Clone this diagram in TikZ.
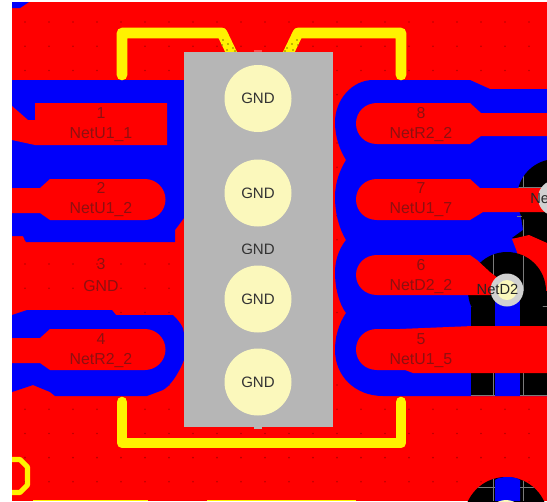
\documentclass[tikz,border=0pt]{standalone}
\usepackage{fontspec}
\setmainfont{Liberation Sans}
\definecolor{pcbred}{HTML}{FF0000}
\definecolor{pcbblue}{HTML}{0000FA}
\definecolor{pcbyellow}{HTML}{FFF200}
\definecolor{pcbgrey}{HTML}{B6B6B6}
\definecolor{pcbcream}{HTML}{FBF8BC}
\definecolor{pcbtext}{HTML}{8E1010}
\definecolor{pcbgrid}{HTML}{7A7A7A}
\tikzset{
  redfill/.style={fill=pcbred},
  bluefill/.style={fill=pcbblue},
  trace/.style={draw=pcbyellow,line width=8pt,line join=round,line cap=round},
  padlabel/.style={text=pcbtext,font=\fontsize{11.9pt}{12pt}\selectfont,inner sep=0pt},
  gndlabel/.style={text=black!80,font=\fontsize{11.3pt}{12pt}\selectfont,inner sep=0pt},
  viadisc/.style={fill=pcbcream},
  gridline/.style={draw=pcbgrid,line width=0.7pt},
  solderdot/.style={fill=black!50!pcbyellow},
}
\begin{document}
\begin{tikzpicture}[x=0.75pt,y=-0.75pt]
\useasboundingbox (0,0) rectangle (547,501);
\clip (0,0) rectangle (547,501);
\fill[white] (0,0) rectangle (547,501);
\fill[redfill] (12,2) rectangle (547,501);
% grid dots on the copper
\foreach \i in {0,...,21}{\foreach \j in {0,...,19}{
  \fill[red!72!black] ({25+24*\i},{22+24.2*\j}) circle (0.9);
}}
% blue top-left
\fill[bluefill] (12,2) -- (29,2) -- (20,8) -- (12,8) -- cycle;
% blue left
\fill[bluefill] (12,80) -- (184,80) -- (184,218) -- (175,230) -- (175,242) -- (26,242) -- (23,236) -- (12,236) -- cycle;
\fill[bluefill] (12,315) -- (27,310) -- (112,310) -- (116,315) -- (173,315)
  .. controls (178,320) and (184,327) .. (184,333) -- (184,360)
  .. controls (178,375) and (170,386) .. (163,390) -- (147,396) -- (55,396) -- (50,392) -- (33,385) -- (12,392) -- cycle;
% blue right
\fill[bluefill] (373,80) -- (470,80) -- (490,89) -- (547,89) -- (547,396) -- (383,396)
  .. controls (355,396) and (335,376) .. (335,350)
  .. controls (335,338) and (338,325) .. (346,313)
  .. controls (340,305) and (335,290) .. (335,272)
  .. controls (335,262) and (338,250) .. (346,240)
  .. controls (340,230) and (335,215) .. (335,197)
  .. controls (335,182) and (340,170) .. (346,160)
  .. controls (340,150) and (335,138) .. (335,122)
  .. controls (335,100) and (352,80) .. (373,80) -- cycle;
% upper-right clearance
\fill[black] (556,198) circle (39);
\fill[black] (517,190) -- (523,230) -- (512,238) -- (547,243) -- (547,190) -- cycle;
\begin{scope}
  \clip (556,198) circle (39) (517,190) rectangle (547,240);
  \draw[gridline] (523,150) -- (523,240);
  \draw[gridline] (510,187) -- (547,187);
  \draw[gridline] (510,216) -- (547,216);
\end{scope}
% red lump above lower clearance
\fill[redfill] (512,239) -- (529,235) -- (547,243) -- (547,300) -- (517,300) -- (517,252) -- cycle;
% lower clearance
\fill[black] (507,291) circle (39);
\fill[black] (471,291) rectangle (547,396);
\begin{scope}
  \clip (507,291) circle (39) (471,291) rectangle (547,396);
  \draw[gridline] (493,240) -- (493,396);
  \draw[gridline] (523,240) -- (523,396);
  \draw[gridline] (471,306) -- (547,306);
  \draw[gridline] (471,395.5) -- (547,395.5);
\end{scope}
\fill[bluefill] (495,295) rectangle (520,396);
% bottom clearance
\fill[black] (506,519) circle (42);
\begin{scope}
  \clip (506,519) circle (42);
  \draw[gridline] (460,487) -- (547,487);
  \draw[gridline] (493,470) -- (493,501);
  \draw[gridline] (523,470) -- (523,501);
\end{scope}
\fill[bluefill] (495,501) -- (495,480) .. controls (500,476) and (515,476) .. (520,480) -- (520,501) -- cycle;
\fill[pcbcream] (506,519) circle (19);
% pads left
\fill[redfill] (12,106) -- (28,120) -- (35,120) -- (35,103) -- (167,103) -- (167,145) -- (35,145) -- (12,140) -- cycle;
\fill[redfill] (12,188) -- (40,188) -- (50,179) -- (145,179)
  .. controls (156,179) and (165.5,188) .. (165.5,199.5)
  .. controls (165.5,211) and (156,220) .. (145,220) -- (50,220) -- (40,213) -- (12,213) -- cycle;
\fill[redfill] (12,338) -- (40,338) -- (50,329) -- (145,329)
  .. controls (156,329) and (165.5,338) .. (165.5,349.5)
  .. controls (165.5,361) and (156,370) .. (145,370) -- (50,370) -- (40,363) -- (12,363) -- cycle;
% pads right
\fill[redfill] (377,103) -- (470,103) -- (481,113) -- (547,113) -- (547,136) -- (481,136) -- (470,144) -- (377,144)
  .. controls (365,144) and (356,135) .. (356,123.5)
  .. controls (356,112) and (365,103) .. (377,103) -- cycle;
\fill[redfill] (377,179) -- (470,179) -- (480,188) -- (547,188) -- (547,212) -- (483,212) -- (470,220) -- (377,220)
  .. controls (365,220) and (356,211) .. (356,199.5)
  .. controls (356,188) and (365,179) .. (377,179) -- cycle;
\fill[redfill] (377,255) -- (470,255) -- (477,260) -- (490,272) -- (507,285) -- (490,295) -- (377,295)
  .. controls (365,295) and (356,286) .. (356,275)
  .. controls (356,264) and (365,255) .. (377,255) -- cycle;
\fill[redfill] (377,329) -- (400,329) -- (473,326) -- (547,326) -- (547,373) -- (413,373) -- (405,370) -- (377,370)
  .. controls (365,370) and (356,361) .. (356,349.5)
  .. controls (356,338) and (365,329) .. (377,329) -- cycle;
% yellow silkscreen
\draw[trace] (122,75) -- (122,33) -- (222,33) -- (234,58);
\draw[trace] (401,75) -- (401,33) -- (298,33) -- (286,58);
\draw[trace] (122,402) -- (122,443) -- (401,443) -- (401,402);
\foreach \a/\b in {223/40,222/45,228/44,227/50,233/48,235/51}{
  \fill[solderdot] (\a,\b) circle (0.9);
  \fill[solderdot] ({520-\a},\b) circle (0.9);
}
\draw[draw=pcbyellow,line width=3.8pt,line join=round] (10,459.5) -- (20,459.5) -- (27.5,467) -- (27.5,485) -- (20,492.5) -- (10,492.5);
\fill[white] (0,455) rectangle (12,497);
\fill[pcbyellow] (33,499.5) rectangle (148,501);
\fill[pcbyellow] (207,499.5) rectangle (356,501);
% component body
\fill[red!70!white] (254,50) rectangle (262,53);
\fill[pcbgrey] (184,52) rectangle (333,427);
\fill[pcbgrey] (254,427) rectangle (262,429);
\begin{scope}
  \clip (236,240) rectangle (280,253);
  \node[gndlabel] (hiddengnd) at (258,249.5) {GND};
\end{scope}
\foreach \n/\yy in {a/98.5,b/193,c/299,d/382}{
  \fill[viadisc] (258,\yy) circle (33.5);
  \node[gndlabel] (via\n) at (258,\yy) {GND};
}
% small vias
\fill[black!18] (507,290) circle (16.5);
\fill[viadisc] (507,290) circle (10);
\fill[black!18] (556,198) circle (18);
\node[text=black!85,font=\fontsize{11pt}{12pt}\selectfont,inner sep=0pt] (netd2) at (497.5,289.5) {NetD2};
\node[text=black!85,font=\fontsize{11pt}{12pt}\selectfont,inner sep=0pt,anchor=west] (netcut) at (530,199) {Ne};
% pad labels
\node[padlabel] (n1) at (101,113) {1};
\node[padlabel] (l1) at (101,135) {NetU1\_1};
\node[padlabel] (n2) at (101,188) {2};
\node[padlabel] (l2) at (101,210) {NetU1\_2};
\node[padlabel] (n3) at (101,264) {3};
\node[padlabel] (l3) at (101,286) {GND};
\node[padlabel] (n4) at (101,339) {4};
\node[padlabel] (l4) at (101,361) {NetR2\_2};
\node[padlabel] (n8) at (421,113) {8};
\node[padlabel] (l8) at (421,135) {NetR2\_2};
\node[padlabel] (n7) at (421,188) {7};
\node[padlabel] (l7) at (421,210) {NetU1\_7};
\node[padlabel] (n6) at (421,265) {6};
\node[padlabel] (l6) at (421,287) {NetD2\_2};
\node[padlabel] (n5) at (421,339) {5};
\node[padlabel] (l5) at (421,361) {NetU1\_5};
\end{tikzpicture}
\end{document}
